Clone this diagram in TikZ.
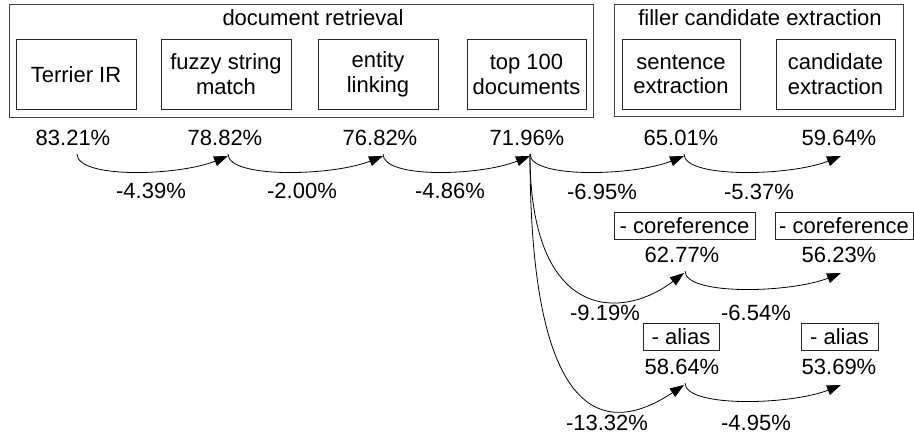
\documentclass[tikz,border=0pt]{standalone}
\usepackage{fontspec}
\setmainfont{Liberation Sans}
\usetikzlibrary{arrows.meta}
\begin{document}
\begin{tikzpicture}[x=1pt,y=-1pt,
  every node/.style={font=\fontsize{22}{24.5}\selectfont, inner sep=0pt},
  stagebox/.style={draw=black!85, line width=0.9pt, minimum height=69.5pt, align=center},
  groupbox/.style={draw=black!75, line width=0.9pt},
  tagbox/.style={draw=black!85, line width=0.9pt, minimum height=27pt},
  flow/.style={line width=0.8pt, -{Triangle[length=14pt,width=10pt]}},
]
\useasboundingbox (0,0) rectangle (914,436);
% group boxes
\node[groupbox, minimum width=584pt, minimum height=113pt] (grpA) at (301,60.5) {};
\node[groupbox, minimum width=289pt, minimum height=112pt] (grpB) at (758.5,60) {};
\node (tA) at (313,18) {document retrieval};
\node (tB) at (760,18) {filler candidate extraction};
% stage boxes
\node[stagebox, minimum width=120pt] (s1) at (76,74.25) {Terrier IR};
\node[stagebox, minimum width=130pt] (s2) at (226,74.25) {fuzzy string\\match};
\node[stagebox, minimum width=120pt] (s3) at (378,74.25) {entity\\linking};
\node[stagebox, minimum width=119pt] (s4) at (526.5,74.25) {top 100\\documents};
\node[stagebox, minimum width=118pt] (s5) at (681,74.25) {sentence\\extraction};
\node[stagebox, minimum width=119pt] (s6) at (835.5,74.25) {candidate\\extraction};
% percentages
\node (p1) at (73,138) {83.21\%};
\node (p2) at (225,138) {78.82\%};
\node (p3) at (380,138) {76.82\%};
\node (p4) at (527,138) {71.96\%};
\node (p5) at (681,138) {65.01\%};
\node (p6) at (839,138) {59.64\%};
\node[tagbox, minimum width=141pt] (c1) at (684.5,225.5) {- coreference};
\node[tagbox, minimum width=138pt] (c2) at (844,225.5) {- coreference};
\node (q1) at (682,255) {62.77\%};
\node (q2) at (839,255) {56.23\%};
\node[tagbox, minimum width=76pt] (a1) at (681,336.5) {- alias};
\node[tagbox, minimum width=77pt] (a2) at (839.5,336.5) {- alias};
\node (r1) at (682,367) {58.64\%};
\node (r2) at (839,367) {53.69\%};
% differences
\node (d1) at (151,191) {-4.39\%};
\node (d2) at (302,191) {-2.00\%};
\node (d3) at (450,191) {-4.86\%};
\node (d4) at (602,192) {-6.95\%};
\node (d5) at (759,192) {-5.37\%};
\node (d6) at (605,313) {-9.19\%};
\node (d7) at (756,313) {-6.54\%};
\node (d8) at (607,423) {-13.32\%};
\node (d9) at (756,423) {-4.95\%};
% arrows
\draw[flow] ([xshift=4pt,yshift=-8pt]p1.south) .. controls +(0,25) and +(-50,20) .. ([xshift=3pt,yshift=-10pt]p2.south);
\draw[flow] ([xshift=3pt,yshift=-8pt]p2.south) .. controls +(0,25) and +(-50,20) .. ([xshift=3pt,yshift=-10pt]p3.south);
\draw[flow] ([xshift=3pt,yshift=-8pt]p3.south) .. controls +(0,25) and +(-50,20) .. ([xshift=3pt,yshift=-10pt]p4.south);
\draw[flow] ([xshift=3pt,yshift=-8pt]p4.south) .. controls +(0,25) and +(-50,20) .. ([xshift=3pt,yshift=-10pt]p5.south);
\draw[flow] ([xshift=3pt,yshift=-8pt]p5.south) .. controls +(0,25) and +(-50,20) .. ([xshift=2pt,yshift=-10pt]p6.south);
\draw[flow] ([xshift=3pt,yshift=-8pt]p4.south) .. controls +(0,167) and +(-63,48) .. ([xshift=2pt,yshift=-10pt]q1.south);
\draw[flow] ([xshift=3pt,yshift=-8pt]p4.south) .. controls +(0,297) and +(-63,42) .. ([xshift=2pt,yshift=-10pt]r1.south);
\draw[flow] ([xshift=3pt,yshift=-8pt]q1.south) .. controls +(0,25) and +(-50,20) .. ([xshift=2pt,yshift=-10pt]q2.south);
\draw[flow] ([xshift=3pt,yshift=-8pt]r1.south) .. controls +(0,25) and +(-50,20) .. ([xshift=2pt,yshift=-10pt]r2.south);
\end{tikzpicture}
\end{document}
